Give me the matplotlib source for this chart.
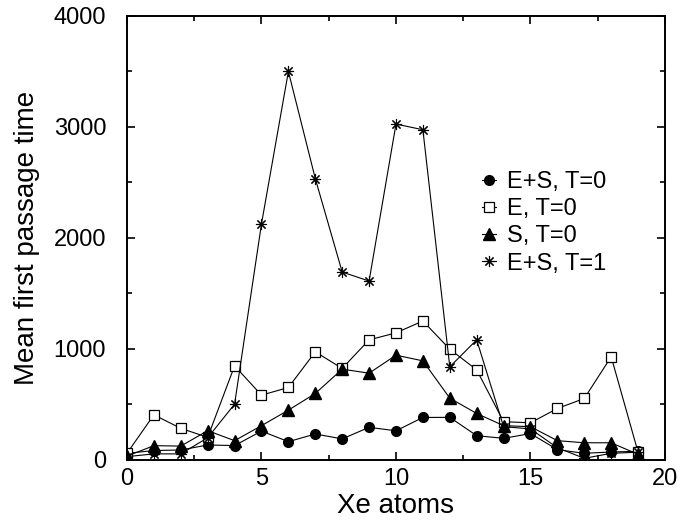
import matplotlib
matplotlib.use('Agg')
import matplotlib.pyplot as plt
from matplotlib.ticker import MultipleLocator

plt.rcParams['font.family'] = ['Liberation Sans', 'DejaVu Sans']

xe_atoms = list(range(20))

es_t0 = [60, 85, 90, 135, 130, 260, 165, 234, 190, 294,
         263, 383, 384, 219, 195, 238, 93, 60, 72, 78]
e_t0 = [60, 407, 285, 204, 848, 584, 653, 974, 825, 1082,
        1145, 1252, 998, 812, 345, 335, 464, 554, 930, 70]
s_t0 = [35, 129, 125, 264, 174, 309, 449, 599, 818, 782,
        944, 893, 557, 419, 309, 300, 174, 155, 155, 50]
es_t1 = [30, 55, 55, 200, 503, 2127, 3500, 2535, 1693, 1612,
         3026, 2975, 839, 1082, 300, 280, 110, 15, 60, 70]

fig = plt.figure(figsize=(6.78, 5.23), dpi=100)
ax = fig.add_axes([0.1873, 0.1205, 0.7935, 0.849])

ax.plot(xe_atoms, es_t0, color='black', lw=0.8, marker='o', markersize=7,
        label='E+S, T=0')
ax.plot(xe_atoms, e_t0, color='black', lw=0.8, marker='s', markersize=6.5,
        markerfacecolor='white', markeredgewidth=0.9, label='E, T=0')
ax.plot(xe_atoms, s_t0, color='black', lw=0.8, marker='^', markersize=8.5,
        label='S, T=0')
ax.plot(xe_atoms, es_t1, color='black', lw=0.8, marker=(8, 2, 0), markersize=8,
        markeredgewidth=0.8, label='E+S, T=1')

ax.set_xlim(0, 20)
ax.set_ylim(0, 4000)
ax.xaxis.set_major_locator(MultipleLocator(5))
ax.xaxis.set_minor_locator(MultipleLocator(2.5))
ax.yaxis.set_major_locator(MultipleLocator(1000))
ax.yaxis.set_minor_locator(MultipleLocator(500))
ax.tick_params(which='both', direction='in', top=True, right=True,
               labelsize=17, width=1.2)
ax.tick_params(which='major', length=6)
ax.tick_params(which='minor', length=3.5)
ax.tick_params(axis='x', which='major', pad=6)
ax.tick_params(axis='y', which='major', pad=15)
for sp in ax.spines.values():
    sp.set_linewidth(1.4)

ax.set_xlabel('Xe atoms', fontsize=20, labelpad=2)
ax.set_ylabel('Mean first passage time', fontsize=20, labelpad=10)

ax.legend(loc='center left', bbox_to_anchor=(0.66, 0.534), frameon=False,
          fontsize=17, handlelength=0.6, handletextpad=0.45, labelspacing=0.22,
          borderpad=0, borderaxespad=0, numpoints=1)

fig.savefig('out.png', dpi=100)
